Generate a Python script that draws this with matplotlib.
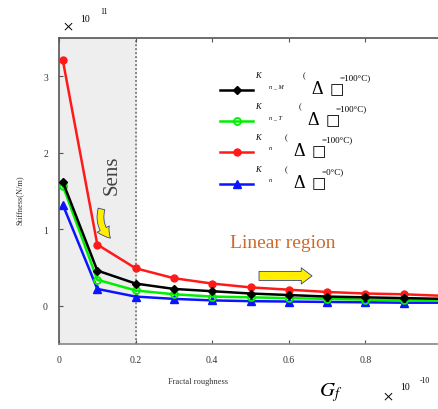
import matplotlib
matplotlib.use("Agg")
import matplotlib.pyplot as plt
from matplotlib.lines import Line2D
from matplotlib.patches import FancyArrowPatch

plt.rcParams["font.family"] = ["Liberation Serif", "DejaVu Serif"]
plt.rcParams["mathtext.fontset"] = "stix"

roughness = [0.01, 0.1, 0.2, 0.3, 0.4, 0.5, 0.6, 0.7, 0.8, 0.9, 1.0]
k_nm = [1.62, 0.46, 0.29, 0.22, 0.19, 0.16, 0.14, 0.12, 0.11, 0.10, 0.09]
k_nt = [1.57, 0.34, 0.20, 0.15, 0.12, 0.11, 0.10, 0.09, 0.08, 0.07, 0.065]
k_n100 = [3.21, 0.80, 0.49, 0.36, 0.29, 0.24, 0.21, 0.18, 0.16, 0.15, 0.13]
k_n0 = [1.32, 0.22, 0.12, 0.09, 0.07, 0.06, 0.055, 0.05, 0.045, 0.04, 0.04]

x_ticks = [0, 0.2, 0.4, 0.6, 0.8, 1.0]
x_tick_labels = ["0", "0.2", "0.4", "0.6", "0.8", "1"]
y_ticks = [0, 1, 2, 3]

W, H = 439, 410
fig = plt.figure(figsize=(W / 100, H / 100), dpi=100)
ax = fig.add_axes([59 / W, 1 - 345 / H, 383 / W, 306 / H])

ax.axvspan(0, 0.2, color="#eeeeee", zorder=0)
ax.axvline(0.2, color="#777777", linestyle=(0, (1, 1.2)), linewidth=1.3, zorder=1)

ax.plot(roughness, k_nm, color="black", lw=1.8, marker="D", ms=4, mfc="black", zorder=4)
ax.plot(roughness, k_nt, color="#00ee00", lw=1.8, marker="o", ms=5, mfc="none", mew=1.3, zorder=3)
ax.plot(roughness, k_n100, color="#ff1a1a", lw=1.8, marker="o", ms=5, mfc="#ff1a1a", zorder=3)
ax.plot(roughness, k_n0, color="#0a14ff", lw=1.8, marker="^", ms=6, mfc="#0a14ff", zorder=2)

ax.set_xlim(0, 1.0)
ax.set_ylim(-0.5, 3.5)
ax.set_xticks(x_ticks)
ax.set_xticklabels(x_tick_labels)
ax.set_yticks(y_ticks)
ax.tick_params(direction="in", top=True, right=True, labelsize=7, labelcolor="#333333",
               color="#555555", length=3, pad=8)
for s in ax.spines.values():
    s.set_color("#555555")
    s.set_linewidth(1.2)
ax.spines["bottom"].set_color("#888888")

# region annotations
ax.text(0.14, 1.72, "Sens", rotation=90, fontsize=15, color="#444444", ha="center", va="center")
ax.text(0.585, 0.83, "Linear region", fontsize=14, color="#cc6a2c", ha="center", va="center")
ax.add_patch(FancyArrowPatch((0.113, 1.30), (0.14, 0.86), connectionstyle="arc3,rad=0.35",
                             arrowstyle="simple,head_width=0.7,head_length=0.6,tail_width=0.35",
                             mutation_scale=14, fc="#ffee00", ec="#334488", lw=0.6, zorder=5))
ax.add_patch(FancyArrowPatch((0.515, 0.39), (0.668, 0.39),
                             arrowstyle="simple,head_width=0.9,head_length=0.6,tail_width=0.5",
                             mutation_scale=13, fc="#ffee00", ec="#334488", lw=0.6, zorder=5))

# legend
handles = [
    Line2D([], [], color="black", lw=1.8, marker="D", ms=4, mfc="black"),
    Line2D([], [], color="#00ee00", lw=1.8, marker="o", ms=5, mfc="none", mew=1.3),
    Line2D([], [], color="#ff1a1a", lw=1.8, marker="o", ms=5, mfc="#ff1a1a"),
    Line2D([], [], color="#0a14ff", lw=1.8, marker="^", ms=6, mfc="#0a14ff"),
]
ax.legend(handles, [" "] * 4, loc="upper left", bbox_to_anchor=(220 / W, 1 - 86 / H),
          bbox_transform=fig.transFigure, frameon=False, handlelength=2.65, fontsize=9,
          labelspacing=1.55, borderpad=0, borderaxespad=0)

subs = ["n _ M", "n _ T", "n", "n"]
temps = ["=100°C)", "=100°C)", "=100°C)", "=0°C)"]
rows = [90, 121, 152, 184]
offs = [0, -4, -18, -18]
for sub, temp, ry, o in zip(subs, temps, rows, offs):
    fig.text(255 / W, 1 - (ry - 12) / H, "K", fontsize=6, style="italic")
    fig.text(269 / W, 1 - (ry - 2) / H, sub, fontsize=4.5, style="italic")
    fig.text((303 + o) / W, 1 - (ry - 12) / H, "(", fontsize=6)
    fig.text((311 + o) / W, 1 - (ry + 4) / H, "Δ", fontsize=13)
    fig.text((330 + o) / W, 1 - (ry + 4) / H, "□", fontsize=11, family="DejaVu Sans")
    fig.text((340 + o) / W, 1 - (ry - 10) / H, temp, fontsize=6.5)

# axis labels and exponent notes
fig.text(20 / W, 1 - 200 / H, "Stiffness(N/m)", rotation=90, fontsize=6, color="#333333",
         ha="center", va="center")
fig.text(198 / W, 1 - 382 / H, "Fractal roughness", fontsize=6, color="#333333",
         ha="center", va="center")
fig.text(68 / W, 1 - 28 / H, "×", fontsize=14, ha="center", va="center")
fig.text(85 / W, 1 - 19 / H, "10", fontsize=7, ha="center", va="center")
fig.text(104 / W, 1 - 12 / H, "11", fontsize=5.5, ha="center", va="center")
fig.text(331 / W, 1 - 393 / H, "$G_f$", fontsize=15, ha="center", va="center")
fig.text(388 / W, 1 - 398 / H, "×", fontsize=14, ha="center", va="center")
fig.text(405 / W, 1 - 388 / H, "10", fontsize=7, ha="center", va="center")
fig.text(425 / W, 1 - 381 / H, "-10", fontsize=5.5, ha="center", va="center")

fig.savefig("out.png", dpi=100)
